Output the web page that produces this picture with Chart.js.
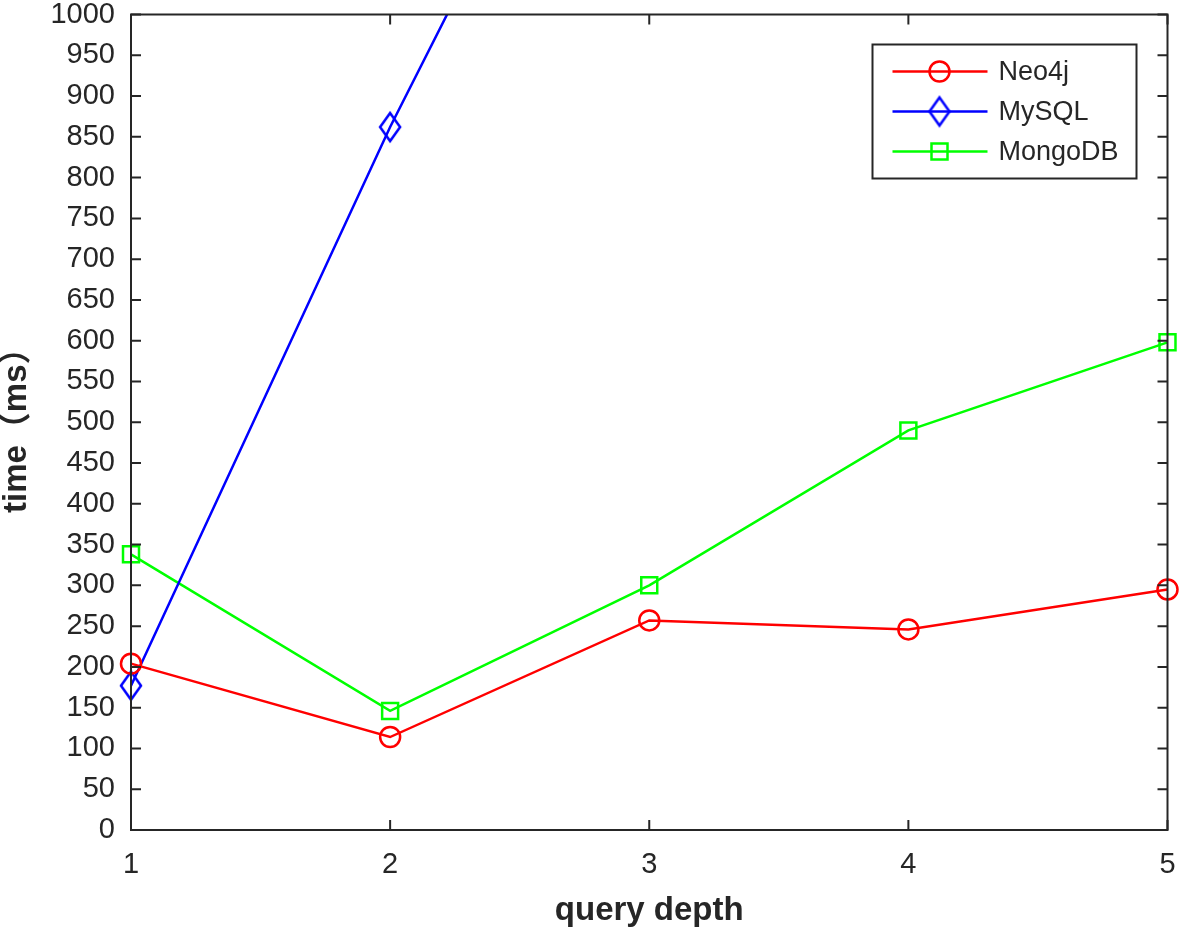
<!DOCTYPE html>
<html>
<head>
<meta charset="utf-8">
<script src="https://cdn.jsdelivr.net/npm/chart.js@4.4.1/dist/chart.umd.min.js"></script>
<style>
  body { margin: 0; background: #fff; }
  #wrap { width: 1182px; height: 931px; }
</style>
</head>
<body>
<div id="wrap"><canvas id="myChart" width="1182" height="931"></canvas></div>
<script>
const depths = ["1", "2", "3", "4", "5"];
const neo4jTimes = [204, 114, 257, 246, 295];
// mysql leaves the plot after depth 2, the last three are rough guesses (clipped anyway)
const mysqlTimes = [177, 862, 1490, 2300, 3200];
const mongoTimes = [338, 146, 300, 490, 598];
const yTicks = { min: 0, max: 1000, step: 50 };

const axisColor = "#262626";
const lineW = 2.5;

// matlab style diamond, taller than wide
function makeDiamond(color) {
    const c = document.createElement("canvas");
    c.width = 26;
    c.height = 34;
    const g = c.getContext("2d");
    g.strokeStyle = color;
    g.lineWidth = 2.5;
    g.beginPath();
    g.moveTo(13, 3);
    g.lineTo(23, 17);
    g.lineTo(13, 31);
    g.lineTo(3, 17);
    g.closePath();
    g.stroke();
    return c;
}
const diamond = makeDiamond("#0000ff");

const boxPlugin = {
    id: "box",
    afterDatasetsDraw(chart) {
        const ctx = chart.ctx;
        const a = chart.chartArea;
        const xs = chart.scales.x;
        const ys = chart.scales.y;
        ctx.save();
        ctx.strokeStyle = axisColor;
        ctx.lineWidth = 2;
        ctx.strokeRect(a.left, a.top, a.right - a.left, a.bottom - a.top);
        ctx.beginPath();
        for (let v = yTicks.min; v <= yTicks.max; v += yTicks.step) {
            const y = ys.getPixelForValue(v);
            ctx.moveTo(a.left, y);
            ctx.lineTo(a.left + 10, y);
            ctx.moveTo(a.right, y);
            ctx.lineTo(a.right - 10, y);
        }
        depths.forEach((d, i) => {
            const x = xs.getPixelForValue(i);
            ctx.moveTo(x, a.bottom);
            ctx.lineTo(x, a.bottom - 10);
            ctx.moveTo(x, a.top);
            ctx.lineTo(x, a.top + 10);
        });
        ctx.stroke();

        // legend box in the top right corner
        const bw = 264, bh = 134;
        const bx = a.right - 31 - bw;
        const by = a.top + 30;
        ctx.fillStyle = "#fff";
        ctx.fillRect(bx, by, bw, bh);
        ctx.lineWidth = 2;
        ctx.strokeRect(bx, by, bw, bh);
        ctx.font = "27px 'Liberation Sans', Arial, sans-serif";
        ctx.textBaseline = "middle";
        chart.data.datasets.forEach((ds, i) => {
            const y = by + 27 + i * 40;
            ctx.strokeStyle = ds.borderColor;
            ctx.lineWidth = lineW;
            ctx.beginPath();
            ctx.moveTo(bx + 20, y);
            ctx.lineTo(bx + 115, y);
            ctx.stroke();
            const mx = bx + 67;
            if (ds.pointStyle === "circle") {
                ctx.beginPath();
                ctx.arc(mx, y, 10, 0, Math.PI * 2);
                ctx.stroke();
            } else if (ds.pointStyle === "rect") {
                ctx.strokeRect(mx - 8, y - 8, 16, 16);
            } else {
                ctx.drawImage(ds.pointStyle, mx - 13, y - 17);
            }
            ctx.fillStyle = axisColor;
            ctx.fillText(ds.label, bx + 126, y + 1);
        });
        ctx.restore();
    }
};

const ctx = document.getElementById("myChart").getContext("2d");
const myChart = new Chart(ctx, {
    type: "line",
    data: {
        labels: depths,
        datasets: [{
            label: "Neo4j",
            data: neo4jTimes,
            borderColor: "#ff0000",
            backgroundColor: "transparent",
            borderWidth: lineW,
            pointStyle: "circle",
            pointRadius: 10,
            pointBorderWidth: lineW,
            pointBackgroundColor: "transparent",
        }, {
            label: "MySQL",
            data: mysqlTimes,
            borderColor: "#0000ff",
            backgroundColor: "transparent",
            borderWidth: lineW,
            pointStyle: diamond,
            pointRadius: 12,
        }, {
            label: "MongoDB",
            data: mongoTimes,
            borderColor: "#00ff00",
            backgroundColor: "transparent",
            borderWidth: lineW,
            pointStyle: "rect",
            pointRadius: 11.3,
            pointBorderWidth: lineW,
            pointBackgroundColor: "transparent",
        }],
    },
    options: {
        responsive: false,
        animation: false,
        layout: {
            padding: { top: 13, right: 14, left: 0, bottom: 0 }
        },
        plugins: {
            legend: { display: false },
            tooltip: { enabled: false },
        },
        scales: {
            x: {
                offset: false,
                grid: { display: false, drawTicks: false },
                border: { display: false },
                ticks: {
                    color: axisColor,
                    padding: 18,
                    maxRotation: 0,
                    font: { family: "'Liberation Sans', Arial, sans-serif", size: 29 },
                },
                title: {
                    display: true,
                    text: "query depth",
                    color: axisColor,
                    padding: 0,
                    font: { family: "'Liberation Sans', Arial, sans-serif", size: 33, weight: "bold" },
                },
                afterFit(scale) {
                    scale.height = 101;
                    scale.paddingLeft = 0;
                    scale.paddingRight = 0;
                },
            },
            y: {
                min: yTicks.min,
                max: yTicks.max,
                grid: { display: false, drawTicks: false },
                border: { display: false },
                ticks: {
                    stepSize: yTicks.step,
                    autoSkip: false,
                    color: axisColor,
                    padding: 16,
                    font: { family: "'Liberation Sans', Arial, sans-serif", size: 29 },
                    callback: (v) => String(v),
                },
                title: {
                    display: true,
                    text: "time（ms）",
                    color: axisColor,
                    padding: 0,
                    font: { family: "'Liberation Sans', 'Noto Sans CJK SC', Arial, sans-serif", size: 33, weight: "bold", lineHeight: 1.05 },
                },
                afterFit(scale) {
                    scale.width = 131;
                    scale.paddingTop = 0;
                    scale.paddingBottom = 0;
                },
            },
        },
    },
    plugins: [boxPlugin],
});
</script>
</body>
</html>
